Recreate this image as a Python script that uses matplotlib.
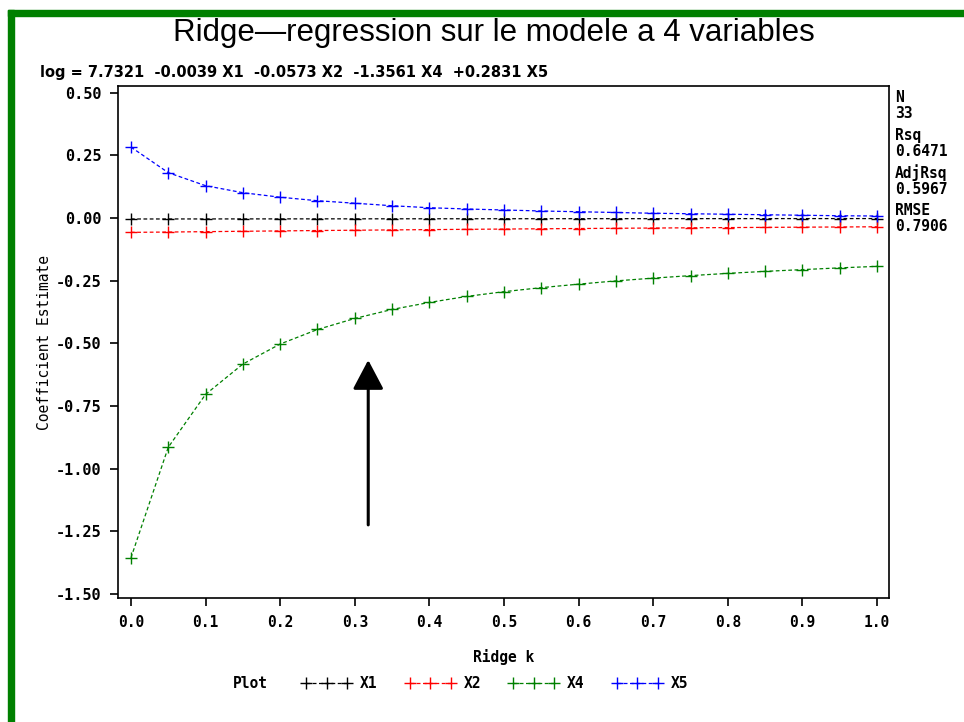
"""
    Ridge trace of the 4-variable model
"""

import matplotlib
matplotlib.use('Agg')
import matplotlib.pyplot as plt
from matplotlib.patches import Rectangle

# data
ridge_k = [0.0, 0.05, 0.1, 0.15, 0.2, 0.25, 0.3, 0.35, 0.4, 0.45, 0.5,
           0.55, 0.6, 0.65, 0.7, 0.75, 0.8, 0.85, 0.9, 0.95, 1.0]
coef_x1 = [-0.0039, -0.0038, -0.0037, -0.0036, -0.0035, -0.0034, -0.0033,
           -0.0032, -0.0031, -0.0030, -0.0029, -0.0028, -0.0027, -0.0027,
           -0.0026, -0.0025, -0.0025, -0.0024, -0.0023, -0.0023, -0.0022]
coef_x2 = [-0.0573, -0.0560, -0.0545, -0.0530, -0.0515, -0.0500, -0.0488,
           -0.0475, -0.0463, -0.0452, -0.0441, -0.0430, -0.0420, -0.0410,
           -0.0400, -0.0391, -0.0382, -0.0374, -0.0366, -0.0358, -0.0350]
coef_x4 = [-1.3561, -0.915, -0.704, -0.583, -0.503, -0.445, -0.401, -0.365,
           -0.337, -0.313, -0.294, -0.278, -0.264, -0.251, -0.240, -0.230,
           -0.221, -0.213, -0.206, -0.199, -0.193]
coef_x5 = [0.2831, 0.181, 0.129, 0.101, 0.083, 0.069, 0.059, 0.049, 0.041,
           0.036, 0.032, 0.028, 0.025, 0.022, 0.019, 0.017, 0.015, 0.013,
           0.011, 0.009, 0.008]
series_names = ['X1', 'X2', 'X4', 'X5']
series_colors = ['black', '#ff0000', '#008000', '#0000ff']
xticks = [0.0, 0.1, 0.2, 0.3, 0.4, 0.5, 0.6, 0.7, 0.8, 0.9, 1.0]
yticks = [0.50, 0.25, 0.00, -0.25, -0.50, -0.75, -1.00, -1.25, -1.50]
stats = [('N', '33'), ('Rsq', '0.6471'), ('AdjRsq', '0.5967'),
         ('RMSE', '0.7906')]
equation = 'log = 7.7321  -0.0039 X1  -0.0573 X2  -1.3561 X4  +0.2831 X5'
arrow_x = 0.318
arrow_y = (-1.225, -0.567)

MONO = 'DejaVu Sans Mono'

fig = plt.figure(figsize=(9.64, 7.22), dpi=100)

# green frame on the left and top
fig.patches.append(Rectangle((8 / 964, 0), 6 / 964, 1 - 10 / 722,
                             transform=fig.transFigure, color='#008000'))
fig.patches.append(Rectangle((8 / 964, 1 - 16 / 722), 1, 6 / 722,
                             transform=fig.transFigure, color='#008000'))

ax = fig.add_axes([0.1224, 0.1717, 0.7998, 0.7092])

all_coefs = [coef_x1, coef_x2, coef_x4, coef_x5]
handles = []
for name, col, vals in zip(series_names, series_colors, all_coefs):
    line, = ax.plot(ridge_k, vals, color=col, linestyle=(0, (3, 2)),
                    linewidth=0.9, marker='+', markersize=9,
                    markeredgewidth=1.0, label=name)
    handles.append(line)

# arrow
ax.annotate('', xy=(arrow_x, arrow_y[1]), xytext=(arrow_x, arrow_y[0]),
            arrowprops=dict(arrowstyle='-|>,head_width=0.95,head_length=1.8',
                            color='black', lw=2.2, shrinkA=0, shrinkB=0))

ax.set_xlim(-0.0174, 1.016)
ax.set_ylim(-1.517, 0.527)
ax.set_xticks(xticks)
ax.set_xticklabels(['%.1f' % v for v in xticks], fontfamily=MONO,
                   fontweight='bold', fontsize=10.5)
ax.set_yticks(yticks)
ax.set_yticklabels(['%.2f' % v for v in yticks], fontfamily=MONO,
                   fontweight='bold', fontsize=11)
ax.tick_params(direction='out', length=6, width=1.2, pad=6)
for sp in ax.spines.values():
    sp.set_linewidth(1.2)

ax.set_xlabel('Ridge k', fontfamily=MONO, fontweight='bold', fontsize=10.5,
              labelpad=14)
ax.set_ylabel('Coefficient Estimate', fontfamily=MONO, fontsize=10.5,
              labelpad=3)

# titles
fig.text(0.512, 1 - 33 / 722,
         'Ridge\u2014regression sur le modele a 4 variables',
         ha='center', va='center', fontsize=22.5,
         fontfamily='Liberation Sans')
fig.text(40 / 964, 1 - 73 / 722, equation, ha='left', va='center',
         fontsize=10.5, fontweight='bold',
         fontfamily='Liberation Sans Narrow')

# statistics on the right
ypos = 98
for lab, val in stats:
    fig.text(895 / 964, 1 - ypos / 722, lab, ha='left', va='center',
             fontsize=10.5, fontweight='bold', fontfamily=MONO)
    fig.text(895 / 964, 1 - (ypos + 16) / 722, val, ha='left', va='center',
             fontsize=10.5, fontweight='bold', fontfamily=MONO)
    ypos += 37.5

# legend at the bottom
fig.text(233 / 964, 1 - 684 / 722, 'Plot', ha='left', va='center',
         fontsize=10.5, fontweight='bold', fontfamily=MONO)
fig.legend(handles=handles, loc='center left',
           bbox_to_anchor=(296 / 964, 1 - 684 / 722), ncol=4, frameon=False,
           numpoints=3, handlelength=3.4, columnspacing=1.9,
           handletextpad=0.6, borderaxespad=0,
           prop={'family': MONO, 'weight': 'bold', 'size': 10.5})

plt.savefig('out.png', dpi=100)
